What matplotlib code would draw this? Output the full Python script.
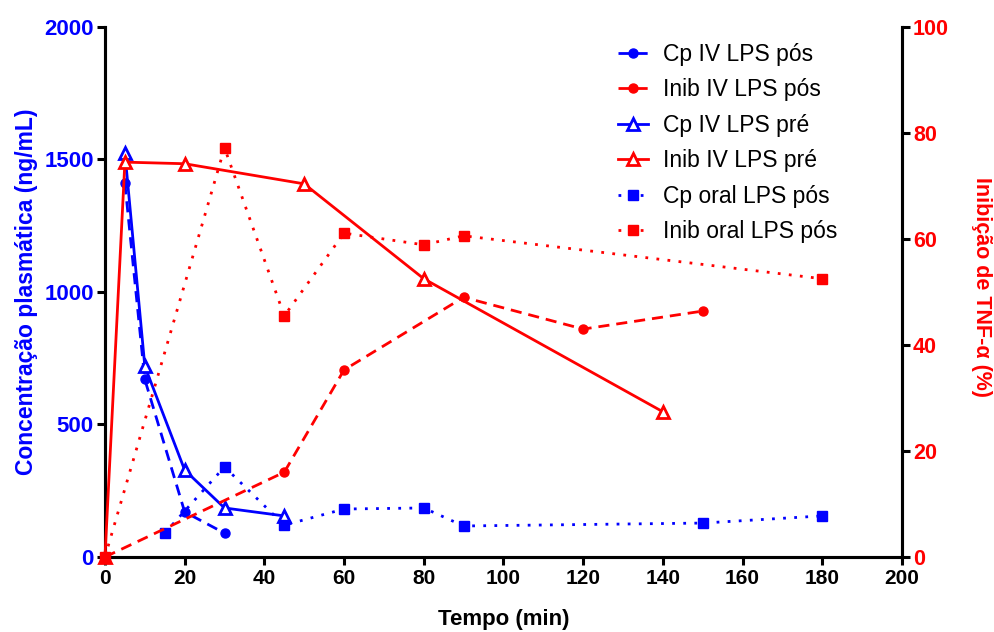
import matplotlib
matplotlib.use("Agg")
import matplotlib.pyplot as plt

plt.rcParams['font.family'] = ['Liberation Sans', 'DejaVu Sans']

# --- data (min, ng/mL or %) ---
cp_iv_pos_t = [5, 10, 20, 30]
cp_iv_pos_y = [1410, 670, 170, 90]

cp_iv_pre_t = [5, 10, 20, 30, 45]
cp_iv_pre_y = [1525, 720, 328, 185, 155]

cp_oral_pos_t = [15, 30, 45, 60, 80, 90, 150, 180]
cp_oral_pos_y = [90, 340, 120, 181, 185, 117, 128, 155]

inib_iv_pos_t = [0, 45, 60, 90, 120, 150]
inib_iv_pos_y = [0, 16, 35.3, 49, 43, 46.4]

inib_iv_pre_t = [0, 5, 20, 50, 80, 140]
inib_iv_pre_y = [0, 74.5, 74.2, 70.4, 52.5, 27.4]

inib_oral_pos_t = [0, 30, 45, 60, 80, 90, 180]
inib_oral_pos_y = [0, 77.2, 45.5, 61.1, 58.9, 60.6, 52.5]

BLUE = '#0000FF'
RED = '#FF0000'

fig = plt.figure(figsize=(9.94, 6.32), dpi=100)
ax = fig.add_axes([0.1056, 0.1187, 0.8018, 0.8386])
ax2 = ax.twinx()

lw = 2.0
h1, = ax.plot(cp_iv_pos_t, cp_iv_pos_y, color=BLUE, ls=(0, (4, 2.5)), lw=lw,
              marker='o', ms=6.5, clip_on=False, zorder=3)
h3, = ax.plot(cp_iv_pre_t, cp_iv_pre_y, color=BLUE, ls='-', lw=lw,
              marker='^', ms=8, mfc='white', mew=2, clip_on=False, zorder=3)
h5, = ax.plot(cp_oral_pos_t, cp_oral_pos_y, color=BLUE, ls=(0, (1, 3)), lw=lw,
              marker='s', ms=6.5, clip_on=False, zorder=3)

h2, = ax2.plot(inib_iv_pos_t, inib_iv_pos_y, color=RED, ls=(0, (4, 2.5)), lw=lw,
               marker='o', ms=6.5, clip_on=False, zorder=3)
h4, = ax2.plot(inib_iv_pre_t, inib_iv_pre_y, color=RED, ls='-', lw=lw,
               marker='^', ms=8, mfc='white', mew=2, clip_on=False, zorder=3)
h6, = ax2.plot(inib_oral_pos_t, inib_oral_pos_y, color=RED, ls=(0, (1, 3)), lw=lw,
               marker='s', ms=6.5, clip_on=False, zorder=3)

ax.set_xlim(0, 200)
ax.set_ylim(0, 2000)
ax2.set_ylim(0, 100)
ax.set_xticks(range(0, 201, 20))
ax.set_yticks(range(0, 2001, 500))
ax2.set_yticks(range(0, 101, 20))

for a in (ax, ax2):
    a.spines['top'].set_visible(False)
    for s in ('left', 'right', 'bottom'):
        a.spines[s].set_linewidth(2.2)
    a.tick_params(width=2.2, length=6, direction='out')

ax.tick_params(axis='x', labelsize=15, colors='black', pad=3)
ax.tick_params(axis='y', labelsize=16, labelcolor=BLUE, pad=2)
ax2.tick_params(axis='y', labelsize=15.5, labelcolor=RED, pad=2)
for lab in ax.get_xticklabels() + ax.get_yticklabels() + ax2.get_yticklabels():
    lab.set_fontweight('bold')

ax.set_xlabel('Tempo (min)', fontsize=16, fontweight='bold', va='center')
ax.xaxis.set_label_coords(0.5, -0.118)
ax.set_ylabel('Concentração plasmática (ng/mL)', fontsize=16.5, fontweight='bold',
              color=BLUE, va='center')
ax.yaxis.set_label_coords(-0.098, 0.5)
ax2.set_ylabel('Inibição de TNF-α (%)', fontsize=15.5, fontweight='bold',
               color=RED, rotation=270, va='center')
ax2.yaxis.set_label_coords(1.10, 0.51)

handles = [h1, h2, h3, h4, h5, h6]
labels = ['Cp IV LPS pós', 'Inib IV LPS pós', 'Cp IV LPS pré',
          'Inib IV LPS pré', 'Cp oral LPS pós', 'Inib oral LPS pós']
ax2.legend(handles, labels, loc='upper left', bbox_to_anchor=(0.618, 1.0085),
           frameon=False, fontsize=16.5, handlelength=1.3, labelspacing=0.54,
           handletextpad=0.65, borderpad=0.4)

fig.savefig('out.png', dpi=100)
